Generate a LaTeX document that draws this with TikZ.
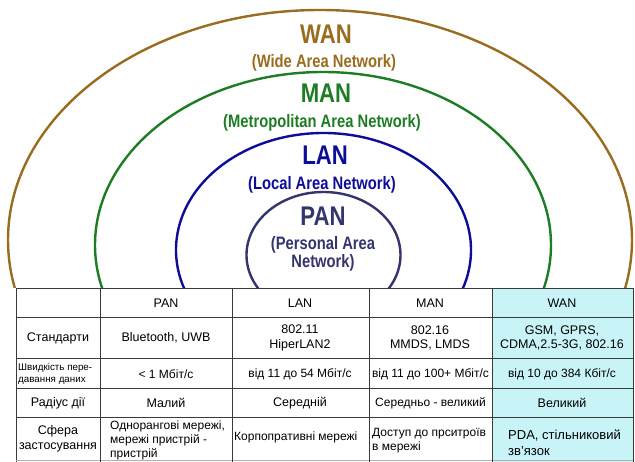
\documentclass[tikz,border=0pt]{standalone}
\usepackage{fontspec}
\setmainfont{Liberation Sans}
\newfontfamily\titlefont[FakeStretch=0.82]{Liberation Sans Bold}
\definecolor{wancol}{HTML}{9A6C20}
\definecolor{mancol}{HTML}{1E7D24}
\definecolor{lancol}{HTML}{0D0D99}
\definecolor{pancol}{HTML}{34346E}
\definecolor{wanfill}{HTML}{C9F4F7}
\definecolor{gridcol}{HTML}{3A3A3A}
\tikzset{
  ring/.style={line width=2.4pt},
  bigname/.style={font=\titlefont\fontsize{27}{28}\selectfont, inner sep=0pt},
  fullname/.style={font=\titlefont\fontsize{18}{18}\selectfont, inner sep=0pt, align=center},
  cell/.style={font=\fontsize{12.5}{14.5}\selectfont, inner sep=0pt, align=center},
  lcell/.style={font=\fontsize{12}{14}\selectfont, inner sep=0pt, align=left, anchor=west},
  grid/.style={draw=gridcol, line width=0.8pt}
}
\begin{document}
\begin{tikzpicture}[x=1pt,y=-1pt]
\useasboundingbox (0,0) rectangle (635,462);
\fill[white] (0,0) rectangle (635,462);

% nested network ranges, cut off by the table
\begin{scope}
  \clip (0,0) rectangle (635,288);
  \draw[ring, wancol] (320,240) ellipse [x radius=312pt, y radius=230pt];
  \draw[ring, mancol] (323,245) ellipse [x radius=228pt, y radius=173pt];
  \draw[ring, lancol] (323.5,250) ellipse [x radius=147.5pt, y radius=117pt];
  \draw[ring, pancol] (323.5,255) ellipse [x radius=77pt, y radius=63pt];
\end{scope}

\node[bigname, text=wancol] (wan) at (326,34) {WAN};
\node[fullname, text=wancol] (wanf) at (324,63) {(Wide Area Network)};
\node[bigname, text=mancol] (man) at (326,93) {MAN};
\node[fullname, text=mancol] (manf) at (322,123) {(Metropolitan Area Network)};
\node[bigname, text=lancol] (lan) at (325,155) {LAN};
\node[fullname, text=lancol] (lanf) at (322,185) {(Local Area Network)};
\node[bigname, text=pancol] (pan) at (323,216) {PAN};
\node[fullname, text=pancol] (panf) at (323,254) {(Personal Area\\Network)};

% comparison table (runs on past the lower edge)
\fill[wanfill] (492,288) rectangle (633,462);
\draw[grid] (16,462) -- (16,288) -- (633,288) -- (633,462);
\draw[draw=gridcol!40, line width=0.6pt] (16,460.5) -- (633,460.5);
\foreach \y in {317,358,388,417} \draw[grid] (16,\y) -- (633,\y);
\foreach \x in {100,232,369,492} \draw[grid] (\x,288) -- (\x,462);

% header row
\node[cell] (hpan) at (166,303) {PAN};
\node[cell] (hlan) at (300,303) {LAN};
\node[cell] (hman) at (430,303) {MAN};
\node[cell] (hwan) at (562,303) {WAN};

% standards
\node[cell] (s0) at (58,338) {Стандарти};
\node[cell] (s1) at (166,338) {Bluetooth, UWB};
\node[cell] (s2) at (300,338) {802.11\\HiperLAN2};
\node[cell] (s3) at (430,338) {802.16\\MMDS, LMDS};
\node[cell] (s4) at (562,338) {GSM, GPRS,\\CDMA,2.5-3G, 802.16};

% data rate
\node[lcell, font=\fontsize{9.8}{11.5}\selectfont] (r0) at (18,374) {Швидкість пере-\\давання даних};
\node[cell, font=\fontsize{12}{14}\selectfont] (r1) at (166,374) {< 1 Мбіт/с};
\node[cell, font=\fontsize{12}{14}\selectfont] (r2) at (300,374) {від 11 до 54 Мбіт/с};
\node[cell, font=\fontsize{12}{14}\selectfont] (r3) at (430.5,374) {від 11 до 100+ Мбіт/с};
\node[cell, font=\fontsize{12}{14}\selectfont] (r4) at (562,374) {від 10 до 384 Кбіт/с};

% range
\node[cell] (d0) at (58,403) {Радіус дії};
\node[cell] (d1) at (166,403) {Малий};
\node[cell] (d2) at (300,403) {Середній};
\node[cell, font=\fontsize{12}{14}\selectfont] (d3) at (430.5,403) {Середньо - великий};
\node[cell] (d4) at (562,403) {Великий};

% field of use
\node[cell] (a0) at (58,439) {Сфера\\застосування};
\node[lcell] (a1) at (110,440) {Однорангові мережі,\\мережі пристрій -\\пристрій};
\node[lcell] (a2) at (234,437) {Корпопративні мережі};
\node[lcell] (a3) at (372,441) {Доступ до прситроїв\\в мережі};
\node[lcell, font=\fontsize{13}{16}\selectfont] (a4) at (508,443) {PDA, стільниковий\\зв'язок};
\end{tikzpicture}
\end{document}
